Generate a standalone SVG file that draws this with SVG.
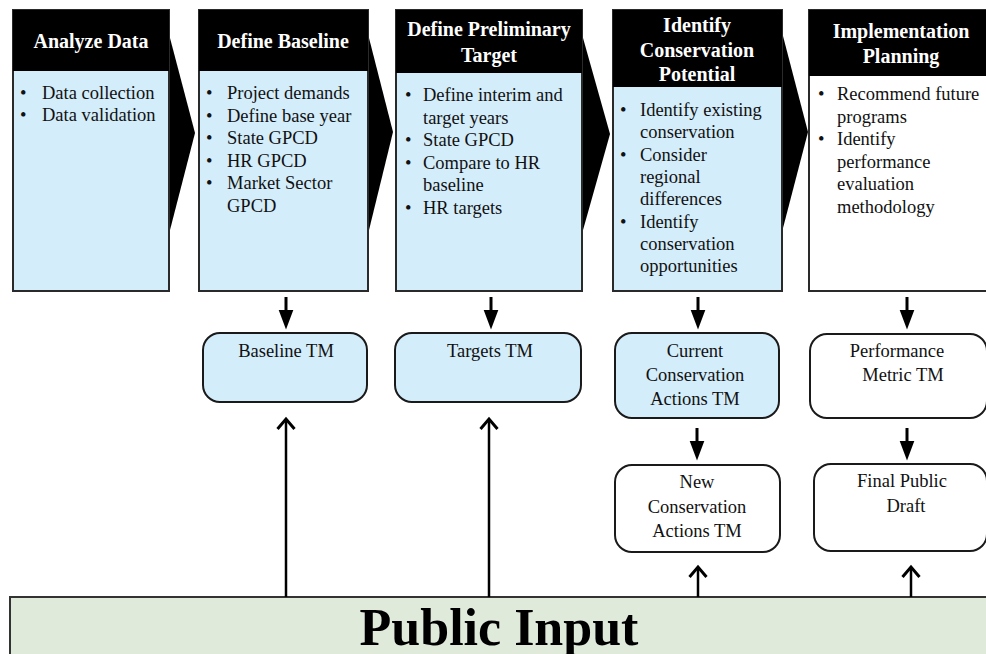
<svg xmlns="http://www.w3.org/2000/svg" width="986" height="654" viewBox="0 0 986 654">
<style>
.frame{fill:#d4edfb;stroke:#2a2a2a;stroke-width:2}
.frame.w{fill:#ffffff}
.hdr{fill:#000}
.chev{fill:#000}
.ht{font-family:"Liberation Serif","Times New Roman",serif;font-weight:bold;font-size:20px;fill:#fff;text-anchor:middle}
.bt{font-family:"Liberation Serif","Times New Roman",serif;font-size:18.5px;fill:#111}
.tm{fill:#d4edfb;stroke:#1a1a1a;stroke-width:2}
.tm.w{fill:#fff}
.tt{font-family:"Liberation Serif","Times New Roman",serif;font-size:18.5px;fill:#111;text-anchor:middle}
.dn{stroke:#000;stroke-width:3;fill:none;marker-end:url(#fill)}
.up{stroke:#000;stroke-width:2.5;fill:none;marker-end:url(#open)}
.pi{fill:#dfeadb;stroke:#333;stroke-width:2}
.pt{font-family:"Liberation Serif","Times New Roman",serif;font-weight:bold;font-size:52px;fill:#000;text-anchor:middle}
</style>
<defs>
<marker id="fill" markerUnits="userSpaceOnUse" viewBox="0 -8 20 16" refX="0.5" refY="0" markerWidth="20" markerHeight="16" orient="auto">
<path d="M0,-7.5 L20,0 L0,7.5 Z" fill="#000"/>
</marker>
<marker id="open" markerUnits="userSpaceOnUse" viewBox="-2 -12 16 24" refX="10" refY="0" markerWidth="16" markerHeight="24" orient="auto" overflow="visible">
<path d="M0,-8.5 L10,0 L0,8.5" fill="none" stroke="#000" stroke-width="3"/>
</marker>
</defs>

<g id="chevrons">
<polygon class="chev" points="170,38 195,133 170,230"/>
<polygon class="chev" points="369,38 393,132 369,230"/>
<polygon class="chev" points="583,38 610,134 583,230"/>
<polygon class="chev" points="783,36 808,132 783,228"/>
</g>

<g id="analyze-data">
<rect class="frame" x="13" y="10" width="156" height="281"/>
<rect class="hdr" x="13" y="10" width="156" height="61"/>
<text class="ht" x="91" y="48">Analyze Data</text>
<text class="bt"><tspan x="20" y="99">•</tspan><tspan x="42" y="99">Data collection</tspan><tspan x="20" y="121">•</tspan><tspan x="42" y="121">Data validation</tspan></text>
</g>

<g id="define-baseline">
<rect class="frame" x="199" y="10" width="169" height="281"/>
<rect class="hdr" x="199" y="10" width="169" height="61"/>
<text class="ht" x="283" y="48">Define Baseline</text>
<text class="bt"><tspan x="206" y="99">•</tspan><tspan x="227" y="99">Project demands</tspan><tspan x="206" y="121.5">•</tspan><tspan x="227" y="121.5">Define base year</tspan><tspan x="206" y="144">•</tspan><tspan x="227" y="144">State GPCD</tspan><tspan x="206" y="166.5">•</tspan><tspan x="227" y="166.5">HR GPCD</tspan><tspan x="206" y="189">•</tspan><tspan x="227" y="189">Market Sector</tspan><tspan x="227" y="211.5">GPCD</tspan></text>
</g>

<g id="define-preliminary-target">
<rect class="frame" x="396" y="10" width="186" height="281"/>
<rect class="hdr" x="396" y="10" width="186" height="63"/>
<text class="ht" x="489" y="36">Define Preliminary</text>
<text class="ht" x="489" y="62">Target</text>
<text class="bt"><tspan x="405" y="101">•</tspan><tspan x="423" y="101">Define interim and</tspan><tspan x="423" y="123.5">target years</tspan><tspan x="405" y="146">•</tspan><tspan x="423" y="146">State GPCD</tspan><tspan x="405" y="168.5">•</tspan><tspan x="423" y="168.5">Compare to HR</tspan><tspan x="423" y="191">baseline</tspan><tspan x="405" y="213.5">•</tspan><tspan x="423" y="213.5">HR targets</tspan></text>
</g>

<g id="identify-conservation-potential">
<rect class="frame" x="613" y="10" width="169" height="281"/>
<rect class="hdr" x="613" y="10" width="169" height="77"/>
<text class="ht" x="697" y="32">Identify</text>
<text class="ht" x="697" y="57">Conservation</text>
<text class="ht" x="697" y="81">Potential</text>
<text class="bt"><tspan x="620" y="116">•</tspan><tspan x="640" y="116">Identify existing</tspan><tspan x="640" y="138.3">conservation</tspan><tspan x="620" y="160.6">•</tspan><tspan x="640" y="160.6">Consider</tspan><tspan x="640" y="183">regional</tspan><tspan x="640" y="205.3">differences</tspan><tspan x="620" y="227.6">•</tspan><tspan x="640" y="227.6">Identify</tspan><tspan x="640" y="250">conservation</tspan><tspan x="640" y="272.3">opportunities</tspan></text>
</g>

<g id="implementation-planning">
<rect class="frame w" x="809" y="10" width="184" height="281"/>
<rect class="hdr" x="809" y="10" width="184" height="66"/>
<text class="ht" x="901" y="38">Implementation</text>
<text class="ht" x="901" y="63">Planning</text>
<text class="bt"><tspan x="818" y="100">•</tspan><tspan x="837" y="100">Recommend future</tspan><tspan x="837" y="122.6">programs</tspan><tspan x="818" y="145.2">•</tspan><tspan x="837" y="145.2">Identify</tspan><tspan x="837" y="167.8">performance</tspan><tspan x="837" y="190.4">evaluation</tspan><tspan x="837" y="213">methodology</tspan></text>
</g>

<g id="baseline-tm">
<rect class="tm" x="203" y="333" width="164" height="69" rx="17"/>
<text class="tt" x="286" y="357">Baseline TM</text>
</g>
<g id="targets-tm">
<rect class="tm" x="395" y="333" width="186" height="69" rx="17"/>
<text class="tt" x="490" y="357">Targets TM</text>
</g>
<g id="current-conservation-actions-tm">
<rect class="tm" x="615" y="333" width="164" height="85" rx="17"/>
<text class="tt"><tspan x="695" y="357">Current</tspan><tspan x="695" y="381">Conservation</tspan><tspan x="695" y="405">Actions TM</tspan></text>
</g>
<g id="performance-metric-tm">
<rect class="tm w" x="810" y="334" width="177" height="84" rx="17"/>
<text class="tt"><tspan x="897" y="357">Performance</tspan><tspan x="903" y="381">Metric TM</tspan></text>
</g>
<g id="new-conservation-actions-tm">
<rect class="tm w" x="615" y="465" width="165" height="87" rx="17"/>
<text class="tt"><tspan x="697" y="488">New</tspan><tspan x="697" y="513">Conservation</tspan><tspan x="697" y="537">Actions TM</tspan></text>
</g>
<g id="final-public-draft">
<rect class="tm w" x="814" y="464" width="173" height="87" rx="17"/>
<text class="tt"><tspan x="902" y="487">Final Public</tspan><tspan x="906" y="512">Draft</tspan></text>
</g>

<g id="public-input">
<rect class="pi" x="10" y="597" width="990" height="70"/>
<text class="pt" x="499" y="645">Public Input</text>
</g>

<g id="connectors">
<path class="dn" d="M286,297 V310"/>
<path class="dn" d="M491,297 V310"/>
<path class="dn" d="M698,297 V310"/>
<path class="dn" d="M907,297 V310"/>
<path class="dn" d="M697,428 V441"/>
<path class="dn" d="M907,428 V441"/>
<path class="up" d="M286,597 V419"/>
<path class="up" d="M489,597 V419"/>
<path class="up" d="M698,597 V567"/>
<path class="up" d="M911,597 V567"/>
</g>
</svg>
